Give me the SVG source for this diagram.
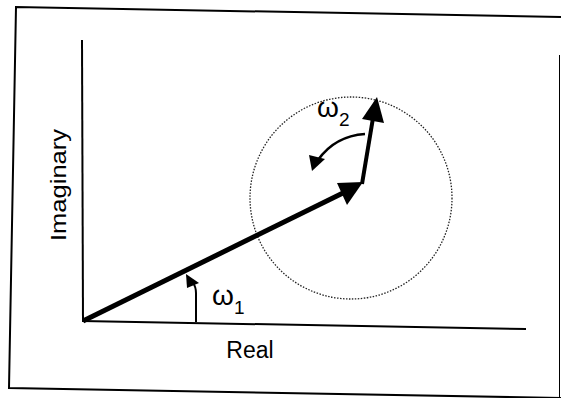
<svg xmlns="http://www.w3.org/2000/svg" width="561" height="398" viewBox="0 0 561 398">
<style>
.frame{fill:none;stroke:#000;stroke-width:2}
.axis{fill:none;stroke:#000;stroke-width:2}
.vec{fill:none;stroke:#000;stroke-linecap:butt}
.head{fill:#000;stroke:none}
.lbl{font-family:"Liberation Sans",Arial,sans-serif;fill:#000}
</style>
<rect width="561" height="398" fill="#fff"/>
<g id="frame">
<polyline class="frame" points="561,17 16,7 9,388 561,398"/>
<line x1="559.5" y1="55" x2="559.5" y2="398" stroke="#000" stroke-width="1"/>
</g>
<g id="axes">
<line class="axis" x1="82" y1="40" x2="83" y2="322"/>
<line class="axis" x1="82" y1="321" x2="526" y2="329"/>
</g>
<g id="circle">
<circle cx="351" cy="198" r="101" fill="none" stroke="#222" stroke-width="1.3" stroke-dasharray="1.5 1.5"/>
</g>
<g id="connectors">
<line class="vec" x1="83" y1="321" x2="345" y2="192" stroke-width="5"/>
<polygon class="head" points="337,183 363,182 347,205"/>
<line class="vec" x1="362" y1="184" x2="374" y2="112" stroke-width="4"/>
<polygon class="head" points="362,119 377,97 384,123"/>
<path class="vec" d="M365,134 Q335,136 318,160" stroke-width="2.5"/>
<polygon class="head" points="309,155 325,159 312,171"/>
<path class="vec" d="M196,322 L196,293 Q196,287 193,283" stroke-width="2"/>
<polygon class="head" points="186,274 187,288 199,283"/>
</g>
<g id="labels">
<text class="lbl" x="250" y="358" font-size="23" text-anchor="middle">Real</text>
<text class="lbl" transform="translate(66,185) rotate(-90)" font-size="22" text-anchor="middle" textLength="112" lengthAdjust="spacingAndGlyphs">Imaginary</text>
<text class="lbl" x="212" y="305" font-size="28">ω<tspan font-size="19" dy="9">1</tspan></text>
<text class="lbl" x="317" y="117" font-size="28">ω<tspan font-size="19" dy="9">2</tspan></text>
</g>
</svg>
